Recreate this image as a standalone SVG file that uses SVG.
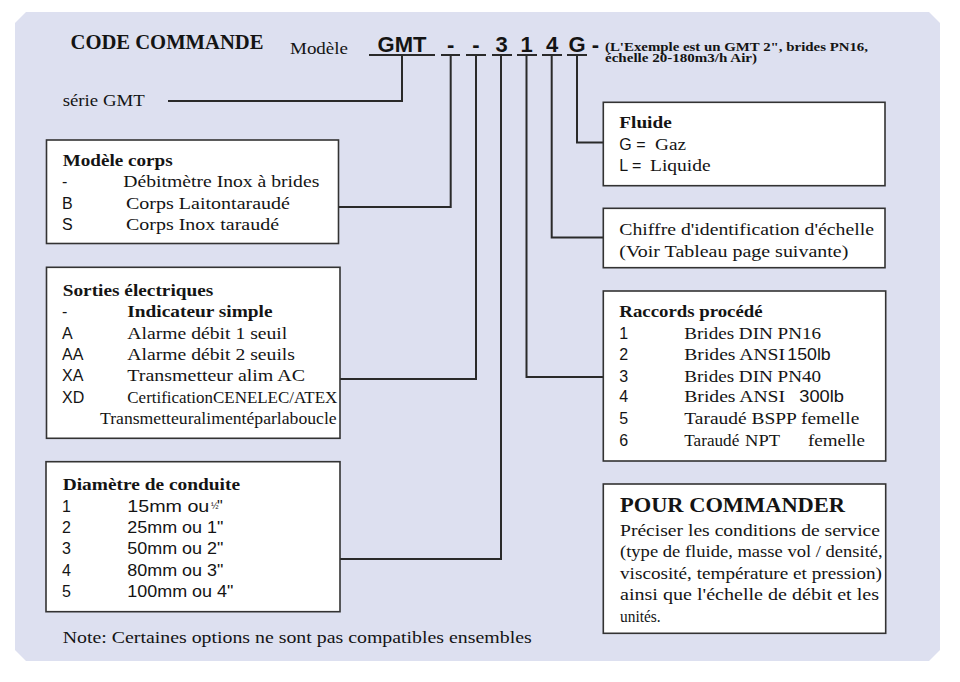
<svg xmlns="http://www.w3.org/2000/svg" width="960" height="682" viewBox="0 0 960 682">
<style>
text{fill:#141414}
.s{font-family:"Liberation Serif","Times New Roman",serif;font-size:16.5px}
.sb{font-family:"Liberation Serif","Times New Roman",serif;font-size:16.5px;font-weight:bold}
.a{font-family:"Liberation Sans",Arial,sans-serif;font-size:16px}
.code{font-family:"Liberation Sans",Arial,sans-serif;font-size:22px;font-weight:bold;text-anchor:middle}
.box{fill:#ffffff;stroke:#333333;stroke-width:1.6}
.ln{fill:none;stroke:#2a2a2a;stroke-width:2}
</style>
<polygon points="15,23 26,12 929,12 940,23 940,650 929,661 26,661 15,650" fill="#dde0f0"/>

<g id="header">
<text class="sb" x="70.5" y="49.3" style="font-size:20px" textLength="193" lengthAdjust="spacingAndGlyphs">CODE COMMANDE</text>
<text class="s" x="290" y="54" style="font-size:17px" textLength="58" lengthAdjust="spacingAndGlyphs">Modèle</text>
<text class="code" x="402" y="51.7">GMT</text>
<text class="code" x="450.7" y="51.7">-</text>
<text class="code" x="476" y="51.7">-</text>
<text class="code" x="501.5" y="51.7">3</text>
<text class="code" x="526.5" y="51.7">1</text>
<text class="code" x="552" y="51.7">4</text>
<text class="code" x="577" y="51.7">G</text>
<text class="code" x="595.5" y="51.7">-</text>
<text class="sb" x="605" y="50.5" style="font-size:12.5px" textLength="263" lengthAdjust="spacingAndGlyphs">(L'Exemple est un GMT 2", brides PN16,</text>
<text class="sb" x="605" y="62" style="font-size:12.5px" textLength="152" lengthAdjust="spacingAndGlyphs">échelle 20-180m3/h Air)</text>
<text class="s" x="62.7" y="106" style="font-size:17px" textLength="82" lengthAdjust="spacingAndGlyphs">série GMT</text>
</g>

<g id="connectors">
<path class="ln" d="M369,55H435 M441,55H460 M466,55H486 M492,55H512 M517,55H537 M542,55H562 M567,55H587"/>
<polyline class="ln" points="402,55 402,101 168,101"/>
<polyline class="ln" points="450.7,55 450.7,207 339,207"/>
<polyline class="ln" points="476,55 476,379 340,379"/>
<polyline class="ln" points="501,55 501,559 340,559"/>
<polyline class="ln" points="526.5,55 526.5,377 603,377"/>
<polyline class="ln" points="551.7,55 551.7,237.5 603,237.5"/>
<polyline class="ln" points="577,55 577,142.5 603,142.5"/>
</g>

<g id="modele-corps">
<rect class="box" x="46.5" y="140" width="292" height="103.5"/>
<text class="sb" x="62.7" y="165.5" textLength="110" lengthAdjust="spacingAndGlyphs">Modèle corps</text>
<text class="a" x="62" y="187">-</text>
<text class="s" x="123.3" y="187" textLength="196" lengthAdjust="spacingAndGlyphs">Débitmètre Inox à brides</text>
<text class="a" x="62" y="208.5">B</text>
<text class="s" x="126" y="208.5" textLength="164" lengthAdjust="spacingAndGlyphs">Corps Laitontaraudé</text>
<text class="a" x="62" y="230">S</text>
<text class="s" x="126" y="230" textLength="153" lengthAdjust="spacingAndGlyphs">Corps Inox taraudé</text>
</g>

<g id="sorties-electriques">
<rect class="box" x="46.5" y="267.3" width="293.5" height="171"/>
<text class="sb" x="62.7" y="296" textLength="150.7" lengthAdjust="spacingAndGlyphs">Sorties électriques</text>
<text class="a" x="62" y="317.3">-</text>
<text class="sb" x="127.3" y="317.3" textLength="145.3" lengthAdjust="spacingAndGlyphs">Indicateur simple</text>
<text class="a" x="62" y="339">A</text>
<text class="s" x="127.3" y="339" textLength="160" lengthAdjust="spacingAndGlyphs">Alarme débit 1 seuil</text>
<text class="a" x="62" y="360">AA</text>
<text class="s" x="127.3" y="360" textLength="167.7" lengthAdjust="spacingAndGlyphs">Alarme débit 2 seuils</text>
<text class="a" x="62" y="380.7">XA</text>
<text class="s" x="127.3" y="380.7" textLength="177.7" lengthAdjust="spacingAndGlyphs">Transmetteur alim AC</text>
<text class="a" x="62" y="402.7">XD</text>
<text class="s" x="127.3" y="402.7" textLength="210" lengthAdjust="spacingAndGlyphs">CertificationCENELEC/ATEX</text>
<text class="s" x="100" y="424" textLength="236.7" lengthAdjust="spacingAndGlyphs">Transmetteuralimentéparlaboucle</text>
</g>

<g id="diametre-conduite">
<rect class="box" x="46" y="461.7" width="294" height="150"/>
<text class="sb" x="62.7" y="490" textLength="177.3" lengthAdjust="spacingAndGlyphs">Diamètre de conduite</text>
<text class="a" x="62" y="512.3">1</text>
<text class="a" x="127.3" y="512.3" textLength="82" lengthAdjust="spacingAndGlyphs">15mm ou </text>
<text class="a" x="211" y="509" style="font-size:9px">½</text>
<text class="a" x="217" y="512.3">"</text>
<text class="a" x="62" y="533.3">2</text>
<text class="a" x="127.3" y="533.3" textLength="96" lengthAdjust="spacingAndGlyphs">25mm ou 1"</text>
<text class="a" x="62" y="554.3">3</text>
<text class="a" x="127.3" y="554.3" textLength="96" lengthAdjust="spacingAndGlyphs">50mm ou 2"</text>
<text class="a" x="62" y="575.5">4</text>
<text class="a" x="127.3" y="575.5" textLength="96" lengthAdjust="spacingAndGlyphs">80mm ou 3"</text>
<text class="a" x="62" y="596.7">5</text>
<text class="a" x="127.3" y="596.7" textLength="106" lengthAdjust="spacingAndGlyphs">100mm ou 4"</text>
</g>

<g id="note">
<text class="s" x="62.7" y="643.3" textLength="469" lengthAdjust="spacingAndGlyphs">Note: Certaines options ne sont pas compatibles ensembles</text>
</g>

<g id="fluide">
<rect class="box" x="603.3" y="102.3" width="281.7" height="83.4"/>
<text class="sb" x="619.3" y="128.3" textLength="52.4" lengthAdjust="spacingAndGlyphs">Fluide</text>
<text class="a" x="619.3" y="150">G =</text>
<text class="s" x="655" y="150" textLength="31" lengthAdjust="spacingAndGlyphs">Gaz</text>
<text class="a" x="619.3" y="171">L =</text>
<text class="s" x="650" y="171" textLength="60.7" lengthAdjust="spacingAndGlyphs">Liquide</text>
</g>

<g id="chiffre-echelle">
<rect class="box" x="603.3" y="208.3" width="281.7" height="59.4"/>
<text class="s" x="619.3" y="235" textLength="254.7" lengthAdjust="spacingAndGlyphs">Chiffre d'identification d'échelle</text>
<text class="s" x="619.3" y="256.7" textLength="229" lengthAdjust="spacingAndGlyphs">(Voir Tableau page suivante)</text>
</g>

<g id="raccords-procede">
<rect class="box" x="603.3" y="291" width="282.4" height="170"/>
<text class="sb" x="619.3" y="317.3" textLength="143.3" lengthAdjust="spacingAndGlyphs">Raccords procédé</text>
<text class="a" x="619.3" y="339">1</text>
<text class="s" x="684.3" y="339" textLength="136.7" lengthAdjust="spacingAndGlyphs">Brides DIN PN16</text>
<text class="a" x="619.3" y="360">2</text>
<text class="s" x="684.3" y="360" textLength="100.7" lengthAdjust="spacingAndGlyphs">Brides ANSI</text>
<text class="a" x="787.3" y="360" textLength="43.4" lengthAdjust="spacingAndGlyphs">150lb</text>
<text class="a" x="619.3" y="381.7">3</text>
<text class="s" x="684.3" y="381.7" textLength="136.7" lengthAdjust="spacingAndGlyphs">Brides DIN PN40</text>
<text class="a" x="619.3" y="402.3">4</text>
<text class="s" x="684.3" y="402.3" textLength="100.7" lengthAdjust="spacingAndGlyphs">Brides  ANSI</text>
<text class="a" x="799.3" y="402.3" textLength="44.7" lengthAdjust="spacingAndGlyphs">300lb</text>
<text class="a" x="619.3" y="424.3">5</text>
<text class="s" x="684.3" y="424.3" textLength="175" lengthAdjust="spacingAndGlyphs">Taraudé BSPP femelle</text>
<text class="a" x="619.3" y="446">6</text>
<text class="s" x="684.3" y="446" textLength="55" lengthAdjust="spacingAndGlyphs">Taraudé</text>
<text class="s" x="745" y="446" textLength="35" lengthAdjust="spacingAndGlyphs">NPT</text>
<text class="s" x="808" y="446" textLength="57" lengthAdjust="spacingAndGlyphs">femelle</text>
</g>

<g id="pour-commander">
<rect class="box" x="603.3" y="484" width="282.4" height="149.3"/>
<text class="sb" x="620" y="512.3" style="font-size:20px" textLength="225" lengthAdjust="spacingAndGlyphs">POUR COMMANDER</text>
<text class="s" x="620" y="535.7" style="font-size:17px" textLength="260" lengthAdjust="spacingAndGlyphs">Préciser les conditions de service</text>
<text class="s" x="620" y="556.7" style="font-size:17px" textLength="262.7" lengthAdjust="spacingAndGlyphs">(type de fluide, masse vol / densité,</text>
<text class="s" x="620" y="579" style="font-size:17px" textLength="262" lengthAdjust="spacingAndGlyphs">viscosité, température et pression)</text>
<text class="s" x="620" y="600" style="font-size:17px" textLength="259" lengthAdjust="spacingAndGlyphs">ainsi que l'échelle de débit et les</text>
<text class="s" x="620" y="621.7" style="font-size:17px" textLength="40.7" lengthAdjust="spacingAndGlyphs">unités.</text>
</g>
</svg>
